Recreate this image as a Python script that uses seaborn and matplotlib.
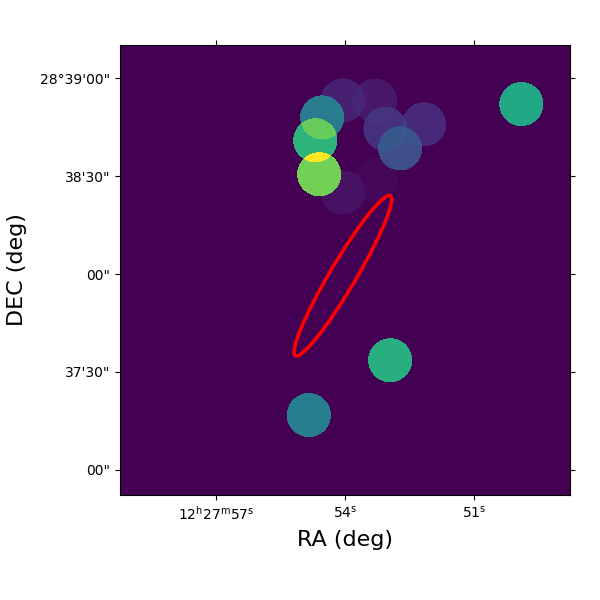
import numpy as np
import pandas as pd
import seaborn as sns
import matplotlib
matplotlib.use("Agg")
import matplotlib.pyplot as plt
from matplotlib.colors import PowerNorm
from matplotlib.patches import Ellipse

# Sources: RA seconds past 12h27m, Dec arcsec relative to 28d38m00s, relative flux
source_ra = [54.05, 53.30, 54.53, 54.69, 53.06, 52.16, 52.72, 54.60, 53.30, 54.05, 49.90, 52.95, 54.84]
source_dec = [53.2, 53.1, 48.0, 41.0, 44.5, 45.9, 38.5, 30.6, 28.8, 25.0, 52.1, -26.4, -43.2]
source_flux = [0.0075, 0.0040, 0.170, 0.420, 0.0190, 0.0120, 0.0550, 0.620, 0.0003, 0.0020, 0.360, 0.400, 0.180]
source_radius = 6.75

ra_limits = (59.23, 48.77)
dec_limits = (-67.7, 70.2)
n_cells = 450

ra_ticks = [57, 54, 51]
ra_tick_labels = [r"$12^{\mathrm{h}}27^{\mathrm{m}}57^{\mathrm{s}}$", r"$54^{\mathrm{s}}$", r"$51^{\mathrm{s}}$"]
dec_ticks = [60, 30, 0, -30, -60]
dec_tick_labels = ["28°39'00\"", "38'30\"", "00\"", "37'30\"", "00\""]

ellipse_ra, ellipse_dec = 54.05, -0.5
ellipse_major, ellipse_minor = 57.0, 8.0   # full axes, arcsec
ellipse_tilt = 59.3

ra_step = (ra_limits[0] - ra_limits[1]) / n_cells
dec_step = (dec_limits[1] - dec_limits[0]) / n_cells
ra_centres = ra_limits[0] - (np.arange(n_cells) + 0.5) * ra_step
dec_centres = dec_limits[1] - (np.arange(n_cells) + 0.5) * dec_step
cos_dec = np.cos(np.deg2rad(28.64))

rr, dd = np.meshgrid(ra_centres, dec_centres)
image = np.zeros_like(rr)
for ra, dec, flux in zip(source_ra, source_dec, source_flux):
    dist = np.hypot((rr - ra) * 15 * cos_dec, dd - dec)
    image[dist <= source_radius] += flux

def x_of(ra):
    return (ra_limits[0] - np.asarray(ra, dtype=float)) / ra_step

def y_of(dec):
    return (dec_limits[1] - np.asarray(dec, dtype=float)) / dec_step

frame = pd.DataFrame(image, index=dec_centres, columns=ra_centres)

sns.set_theme(style="ticks", rc={"axes.grid": False})
plt.rcParams["font.family"] = ["DejaVu Sans"]
plt.rcParams["mathtext.default"] = "regular"

fig = plt.figure(figsize=(6, 6), dpi=100)
ax = fig.add_axes([0.2, 0.175, 0.75, 0.75])
sns.heatmap(frame, ax=ax, cmap="viridis", norm=PowerNorm(0.5, vmin=0, vmax=1.0),
            cbar=False, square=True, xticklabels=False, yticklabels=False)

arcsec_per_cell = dec_step
ax.add_patch(Ellipse((x_of(ellipse_ra), y_of(ellipse_dec)),
                     ellipse_major / arcsec_per_cell, ellipse_minor / arcsec_per_cell,
                     angle=-ellipse_tilt, fill=False, edgecolor="red", linewidth=2.5))

ax.set_xticks(x_of(ra_ticks))
ax.set_xticklabels(ra_tick_labels, rotation=0, fontsize=10, color="black")
ax.set_yticks(y_of(dec_ticks))
ax.set_yticklabels(dec_tick_labels, rotation=0, fontsize=10, color="black")
ax.tick_params(axis="both", direction="out", length=3.5, width=0.8, color="black",
               top=True, right=True, bottom=True, left=True)
for spine in ax.spines.values():
    spine.set_visible(True)
    spine.set_color("black")
    spine.set_linewidth(0.8)
ax.set_xlabel("RA (deg)", fontsize=16, color="black", labelpad=5)
ax.set_ylabel("DEC (deg)", fontsize=16, color="black", labelpad=9.5)
fig.savefig("out.png", dpi=100)
